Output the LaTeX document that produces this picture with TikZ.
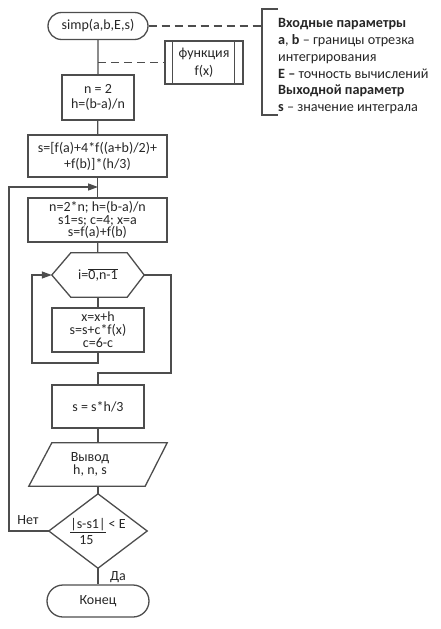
\documentclass[tikz,border=0pt]{standalone}
\usepackage{fontspec}
\setmainfont{Carlito}
\usetikzlibrary{shapes.misc,calc,arrows.meta}
\definecolor{ln}{HTML}{4D4D4D}
\definecolor{tx}{HTML}{262626}
\tikzset{
  every node/.style={text=tx},
  flow/.style={draw=ln, line width=1.3pt},
  dsh/.style={draw=ln, line width=1.2pt, dash pattern=on 8pt off 5pt},
  blk/.style={draw=ln, line width=1.3pt, rectangle, align=center, inner sep=0pt},
  ghost/.style={rectangle, align=center, inner sep=0pt},
  term/.style={draw=ln, line width=1.3pt, rounded rectangle, align=center, inner sep=0pt},
  arr/.style={-{Triangle[length=10pt,width=7pt]}},
  fnt/.style={font=\fontsize{14}{#1}\selectfont\lineskiplimit-30pt\relax},
}
\begin{document}
\begin{tikzpicture}[x=1pt,y=-1pt]
\useasboundingbox (0,0) rectangle (440,629);
% nodes
\node[term, minimum width=100pt, minimum height=27pt, fnt=14] (start) at (98,26) {simp(a,b,E,s)};
\node[blk, minimum width=78pt, minimum height=43pt, fnt=18] (func) at (204,62.5) {функция\\f(x)};
\draw[flow] ($(func.north west)+(8,0)$) -- ($(func.south west)+(8,0)$);
\draw[flow] ($(func.north east)+(-9,0)$) -- ($(func.south east)+(-9,0)$);
\node[blk, minimum width=72pt, minimum height=45pt, fnt=15] (n2) at (98,97.5) {n = 2\\h=(b-a)/n};
\node[blk, minimum width=139pt, minimum height=42pt, fnt=16] (s0) at (97.5,156) {s=[f(a)+4*f((a+b)/2)+\\+f(b)]*(h/3)};
\node[blk, minimum width=139pt, minimum height=44pt, fnt=12.5] (b1) at (97.5,220) {n=2*n; h=(b-a)/n\\s1=s; c=4; x=a\\s=f(a)+f(b)};
\node[ghost, minimum width=92pt, minimum height=44pt, fnt=14] (hex) at (98,275) {i=$\overline{\mbox{0,n-1}}$};
\draw[flow] (hex.west) -- ($(hex.north west)+(19,0)$) -- ($(hex.north east)+(-17,0)$) -- (hex.east) -- ($(hex.south east)+(-17,0)$) -- ($(hex.south west)+(19,0)$) -- cycle;
\node[blk, minimum width=92pt, minimum height=44pt, fnt=13] (b2) at (98,330) {x=x+h\\s=s+c*f(x)\\c=6-c};
\node[blk, minimum width=92pt, minimum height=43pt, fnt=14] (b3) at (98,406.5) {s = s*h/3};
\node[ghost, minimum width=94pt, minimum height=43pt, fnt=13] (out) at (90,464.5) {Вывод\\h, n, s};
\draw[flow] ($(out.north west)+(9,0)$) -- ($(out.north east)+(30,0)$) -- ($(out.south east)+(8,0)$) -- ($(out.south west)+(-14,0)$) -- cycle;
\node[ghost, minimum width=98pt, minimum height=74pt, align=left, fnt=16] (dia) at (98,531) {\underline{|s-s1|}~< E\\\hspace*{9pt}15};
\draw[flow] (dia.west) -- (dia.north) -- (dia.east) -- (dia.south) -- cycle;
\node[term, minimum width=102pt, minimum height=32pt, fnt=14] (end) at (98,601) {Конец};
% parameters text
\node[anchor=north west, align=left, inner sep=0pt, font=\fontsize{14.2}{16.8}\selectfont] (par) at (278,18.2) {%
\textbf{Входные параметры}\\
\textbf{a}, \textbf{b} – границы отрезка\\
интегрирования\\
\textbf{E –} точность вычислений\\
\textbf{Выходной параметр}\\
\textbf{s} – значение интеграла};
\coordinate (brm) at (262,26);
\coordinate (brt) at (278,9);
\coordinate (brb) at (278,115);
\draw[flow, line width=1.1pt] (brt) -- (262,9) -- (262,115) -- (brb);
\draw[dsh] (start.east) -- (brm);
\coordinate (fa) at (98,62.5);
\draw[dsh] (fa) -- (func.west);
% connectors
\draw[flow] (start) -- (n2);
\draw[flow] (n2) -- (s0);
\draw[flow] (s0) -- (b1);
\draw[flow] (b1) -- (hex);
\draw[flow] (hex) -- (b2);
\coordinate (l1) at (32,363);
\draw[flow, arr] (b2.south) |- (l1) |- (hex.west);
\coordinate (r1) at (171,373);
\draw[flow] (hex.east) -| (r1) -| (b3.north);
\draw[flow] (b3.south) -- (b3.south |- out.north);
\draw[flow] (b3.south |- out.south) -- (dia.north);
\draw[flow] (dia.south) -- (end.north);
\coordinate (lx) at (9,0);
\coordinate (j1) at (98,187);
\draw[flow, arr] (dia.west) -- (dia.west -| lx) |- (j1);
\node[fnt=14] (no) at (28,520) {Нет};
\node[fnt=14] (yes) at (118,577) {Да};
\end{tikzpicture}
\end{document}
